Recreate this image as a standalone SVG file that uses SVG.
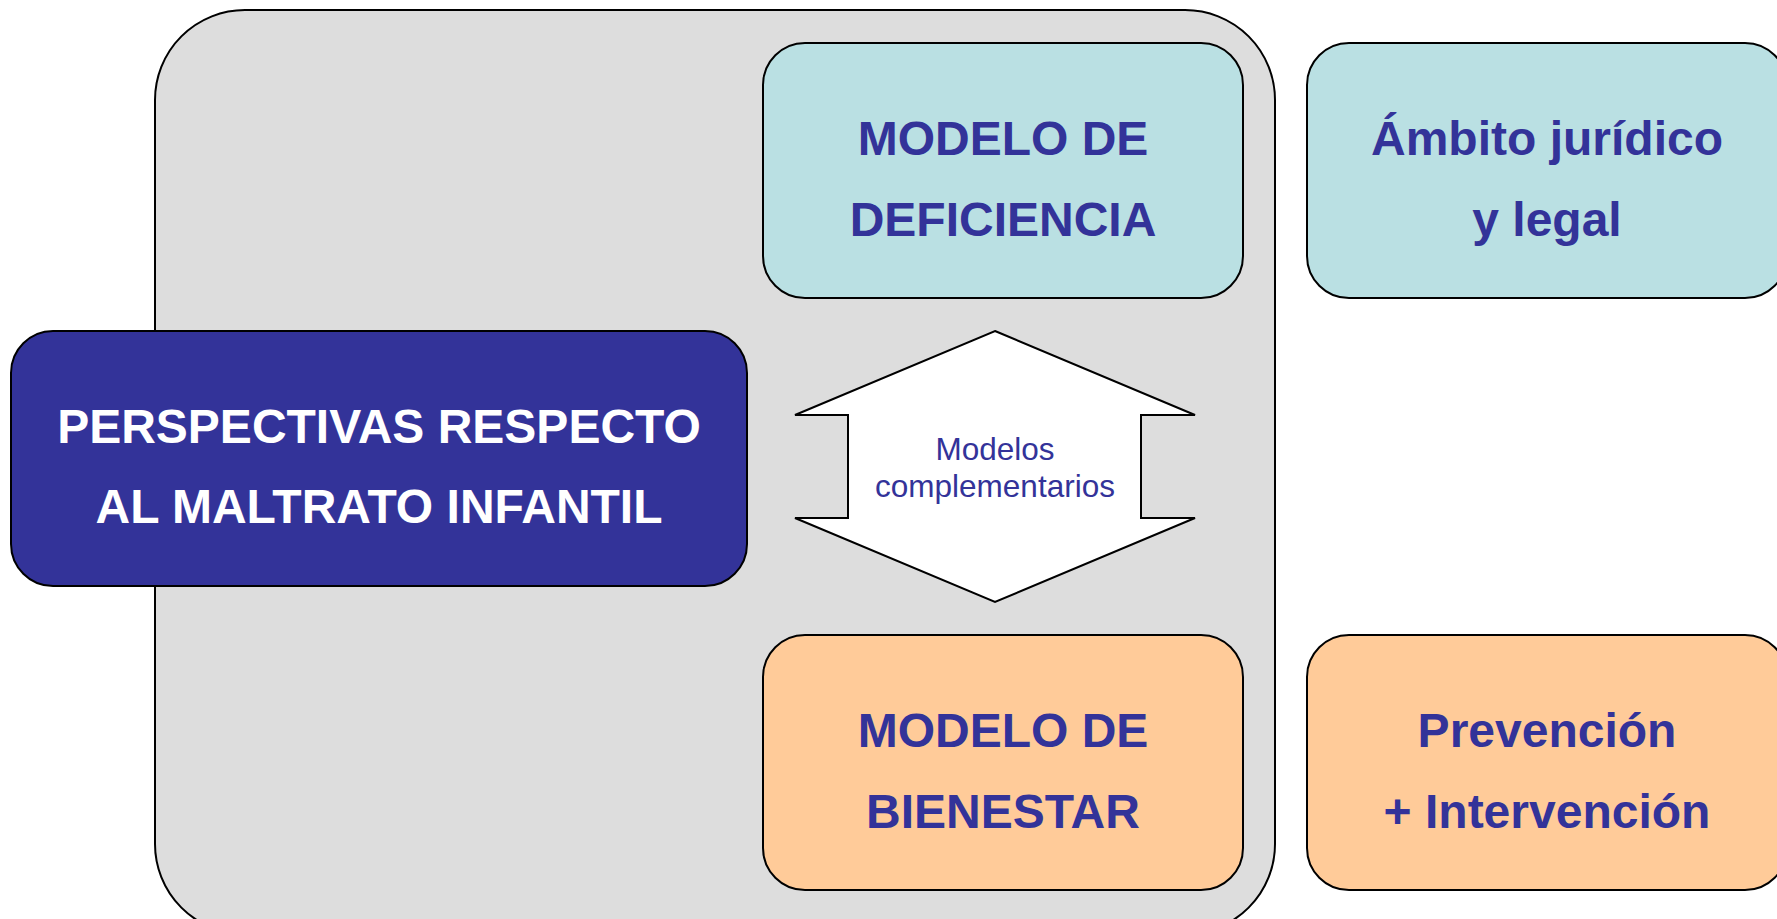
<svg xmlns="http://www.w3.org/2000/svg" width="1777" height="919" viewBox="0 0 1777 919">
<style>
.box{stroke:#000;stroke-width:2}
.teal{fill:#BAE0E3}
.peach{fill:#FFCB99}
.t{font-family:"Liberation Sans",Arial,sans-serif;font-weight:bold;font-size:48px;text-anchor:middle;fill:#333399}
.w{fill:#FFFFFF}
.s{font-family:"Liberation Sans",Arial,sans-serif;font-size:31.5px;text-anchor:middle;fill:#333399}
</style>
<rect width="1777" height="919" fill="#FFFFFF"/>
<g id="container">
<rect class="box" x="155" y="10" width="1120" height="924" rx="90" ry="90" fill="#DDDDDD"/>
</g>
<g id="perspectivas">
<rect class="box" x="11" y="331" width="736" height="255" rx="42" ry="42" fill="#333399"/>
<text class="t w" x="379" y="443">PERSPECTIVAS RESPECTO</text>
<text class="t w" x="379" y="523">AL MALTRATO INFANTIL</text>
</g>
<g id="modelo-deficiencia">
<rect class="box teal" x="763" y="43" width="480" height="255" rx="42" ry="42"/>
<text class="t" x="1003" y="155">MODELO DE</text>
<text class="t" x="1003" y="236">DEFICIENCIA</text>
</g>
<g id="ambito-juridico">
<rect class="box teal" x="1307" y="43" width="480" height="255" rx="42" ry="42"/>
<text class="t" x="1547" y="155">Ámbito jurídico</text>
<text class="t" x="1547" y="236">y legal</text>
</g>
<g id="modelo-bienestar">
<rect class="box peach" x="763" y="635" width="480" height="255" rx="42" ry="42"/>
<text class="t" x="1003" y="747">MODELO DE</text>
<text class="t" x="1003" y="828">BIENESTAR</text>
</g>
<g id="prevencion">
<rect class="box peach" x="1307" y="635" width="480" height="255" rx="42" ry="42"/>
<text class="t" x="1547" y="747">Prevención</text>
<text class="t" x="1547" y="828">+ Intervención</text>
</g>
<g id="connectors">
<g id="modelos-complementarios">
<polygon class="box" fill="#FFFFFF" points="995,331 1195,415 1141,415 1141,518 1195,518 995,602 795,518 848,518 848,415 795,415"/>
<text class="s" x="995" y="460">Modelos</text>
<text class="s" x="995" y="497">complementarios</text>
</g>
</g>
</svg>
